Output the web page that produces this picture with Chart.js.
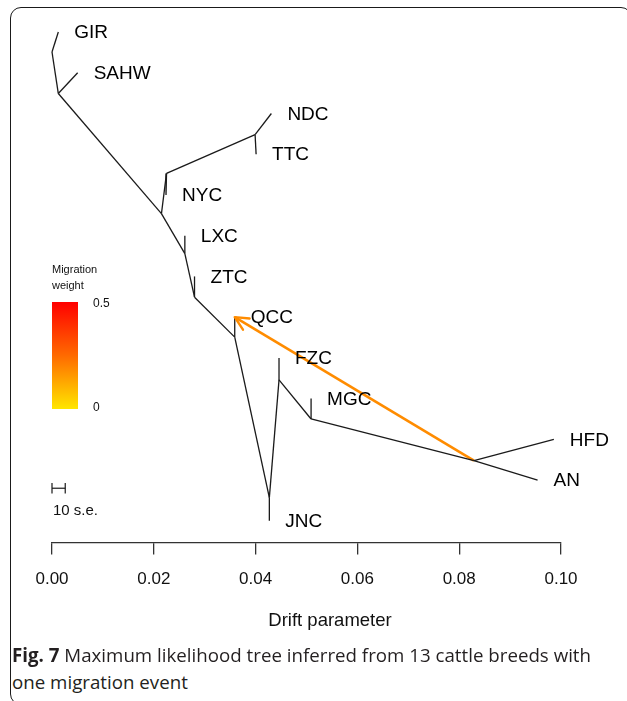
<!DOCTYPE html>
<html><head><meta charset="utf-8">
<script src="https://cdn.jsdelivr.net/npm/chart.js@4.4.1/dist/chart.umd.min.js"></script>
<style>
html,body{margin:0;padding:0;background:#fff;width:627px;height:701px;overflow:hidden;}
#frame{position:absolute;left:10px;top:7px;width:620px;height:696px;border:1.6px solid #1a1a1a;border-radius:11px;}
#wrap{position:absolute;left:0;top:0;width:627px;height:644px;}
.cap{position:absolute;left:12px;font-family:"Open Sans",sans-serif;font-size:19px;color:#231f20;white-space:nowrap;transform-origin:0 0;}
</style></head><body>
<div id="frame"></div>
<div id="wrap"><canvas id="c"></canvas></div>
<div class="cap" id="cap1" style="top:642px"><b>Fig. 7</b> Maximum likelihood tree inferred from 13 cattle breeds with</div>
<div class="cap" id="cap2" style="top:669px">one migration event</div>
<script>
// ---- data ----
const leafNames = ['GIR','SAHW','NDC','TTC','NYC','LXC','ZTC','QCC','FZC','MGC','HFD','AN','JNC'];
const leafDrift = [0.00124,0.00504,0.0431,0.0401,0.0224,0.0261,0.0280,0.0359,0.0446,0.0509,0.0986,0.0954,0.0427];
const leafRow   = [0,1,2,3,4,5,6,7,8,9,10,11,12];
const nodeNames = ['root','n1','n2','n3','n4','n5','n6','n7','n8','n9','n10','n11'];
const nodeDrift = [0,0.00124,0.0215,0.0225,0.0399,0.0261,0.0280,0.0359,0.0427,0.0446,0.0509,0.0829];
const nodeRow   = [0.49,1.51,4.46,3.47,2.52,5.44,6.51,7.49,11.43,8.54,9.50,10.52];
const edgeFrom = ['root','root','n1','n1','n2','n3','n3','n4','n4','n2','n5','n5','n6','n6','n7','n7','n8','n8','n9','n9','n10','n10','n11','n11'];
const edgeTo   = ['GIR','n1','SAHW','n2','n3','NYC','n4','NDC','TTC','n5','LXC','n6','ZTC','n7','QCC','n8','JNC','n9','FZC','n10','MGC','n11','HFD','AN'];
const migrationFrom = 'n11';
const migrationTo = 'QCC';
const migrationWeight = 0.22;
const xTicks = [0,0.02,0.04,0.06,0.08,0.10];
const xTitle = 'Drift parameter';
const scaleBarDrift = 0.0026;   // 10 s.e.
const scaleBarRow = 11.2;
const legendLabels = ['0.5','0'];

// ---- build ----
const pos = {};
leafNames.forEach((n,i)=>pos[n]={x:leafDrift[i],y:leafRow[i]});
nodeNames.forEach((n,i)=>pos[n]={x:nodeDrift[i],y:nodeRow[i]});

const base = {showLine:true,pointRadius:0,borderWidth:1.3,borderColor:'#1a1a1a',clip:false,fill:false,tension:0};
const datasets = edgeFrom.map((f,i)=>Object.assign({},base,{data:[pos[f],pos[edgeTo[i]]]}));
// scale bar
datasets.push(Object.assign({},base,{data:[{x:0,y:scaleBarRow},{x:scaleBarDrift,y:scaleBarRow}],borderWidth:1.2}));
datasets.push(Object.assign({},base,{data:[{x:0,y:scaleBarRow-0.13},{x:0,y:scaleBarRow+0.13}],borderWidth:1.2}));
datasets.push(Object.assign({},base,{data:[{x:scaleBarDrift,y:scaleBarRow-0.13},{x:scaleBarDrift,y:scaleBarRow+0.13}],borderWidth:1.2}));
// migration
const migColor = '#ff8c00';
datasets.push(Object.assign({},base,{data:[pos[migrationFrom],pos[migrationTo]],borderColor:migColor,borderWidth:2.6}));

const FONT = '"Liberation Sans", Arial, sans-serif';

const overlay = {
  id:'overlay',
  afterDatasetsDraw(chart){
    const {ctx, scales:{x,y}} = chart;
    ctx.save();
    // leaf labels
    ctx.font = '19px '+FONT;
    ctx.fillStyle = '#000'; ctx.textBaseline = 'middle'; ctx.textAlign = 'left';
    leafNames.forEach((n,i)=>{
      ctx.fillText(n, x.getPixelForValue(leafDrift[i])+16, y.getPixelForValue(leafRow[i])+1);
    });
    // arrow head
    const p0 = {x:x.getPixelForValue(pos[migrationFrom].x), y:y.getPixelForValue(pos[migrationFrom].y)};
    const p1 = {x:x.getPixelForValue(pos[migrationTo].x), y:y.getPixelForValue(pos[migrationTo].y)};
    const a = Math.atan2(p1.y-p0.y, p1.x-p0.x);
    ctx.strokeStyle = migColor; ctx.lineWidth = 2.4; ctx.lineCap='round';
    ctx.beginPath();
    [0.45,-0.45].forEach(d=>{
      ctx.moveTo(p1.x,p1.y);
      ctx.lineTo(p1.x - 15*Math.cos(a+d), p1.y - 15*Math.sin(a+d));
    });
    ctx.stroke();
    // axis title (R centres it on the figure region, right of the axis centre)
    ctx.fillStyle = '#111';
    ctx.textAlign = 'center';
    ctx.font = '18.5px '+FONT;
    ctx.fillText(xTitle, 330, x.bottom - 23);
    ctx.textAlign = 'left';
    // legend
    ctx.font = '11px '+FONT;
    ctx.fillText('Migration', 52, 270);
    ctx.fillText('weight', 52, 286);
    const g = ctx.createLinearGradient(0,302,0,409);
    g.addColorStop(0,'#ff0000');
    g.addColorStop(0.5,'#ff6a00');
    g.addColorStop(1,'#ffe600');
    ctx.fillStyle = g;
    ctx.fillRect(52,302,26,107);
    ctx.fillStyle = '#111';
    ctx.font = '12px '+FONT;
    ctx.fillText(legendLabels[0], 93, 304);
    ctx.fillText(legendLabels[1], 93, 408);
    // scale bar label
    ctx.font = '15px '+FONT;
    ctx.fillText('10 s.e.', 53, 511);
    ctx.restore();
  }
};

new Chart(document.getElementById('c'), {
  type:'scatter',
  data:{datasets},
  options:{
    responsive:true, maintainAspectRatio:false, animation:false,
    layout:{padding:{left:52,right:66,top:12,bottom:0}},
    plugins:{legend:{display:false},tooltip:{enabled:false}},
    scales:{
      x:{
        type:'linear', min:0, max:0.1,
        afterBuildTicks: s=>{ s.ticks = xTicks.map(v=>({value:v})); },
        ticks:{ callback:v=>Number(v).toFixed(2), font:{family:FONT,size:17}, color:'#111', padding:15, maxRotation:0, autoSkip:false },
        grid:{ drawOnChartArea:false, drawTicks:true, tickLength:12, color:'#333', lineWidth:1.3 },
        border:{ display:true, color:'#333', width:1.3 },
        title:{ display:true, text:xTitle, font:{family:FONT,size:18.5}, color:'rgba(0,0,0,0)', padding:{top:13,bottom:4} }
      },
      y:{ type:'linear', reverse:true, min:-0.492, max:12.53, display:false }
    }
  },
  plugins:[overlay]
});

// fit caption width
const c1 = document.getElementById('cap1'), c2 = document.getElementById('cap2');
const w = c1.getBoundingClientRect().width;
const k = 579 / w;
c1.style.transform = c2.style.transform = 'scaleX('+k+')';
</script>
</body></html>
